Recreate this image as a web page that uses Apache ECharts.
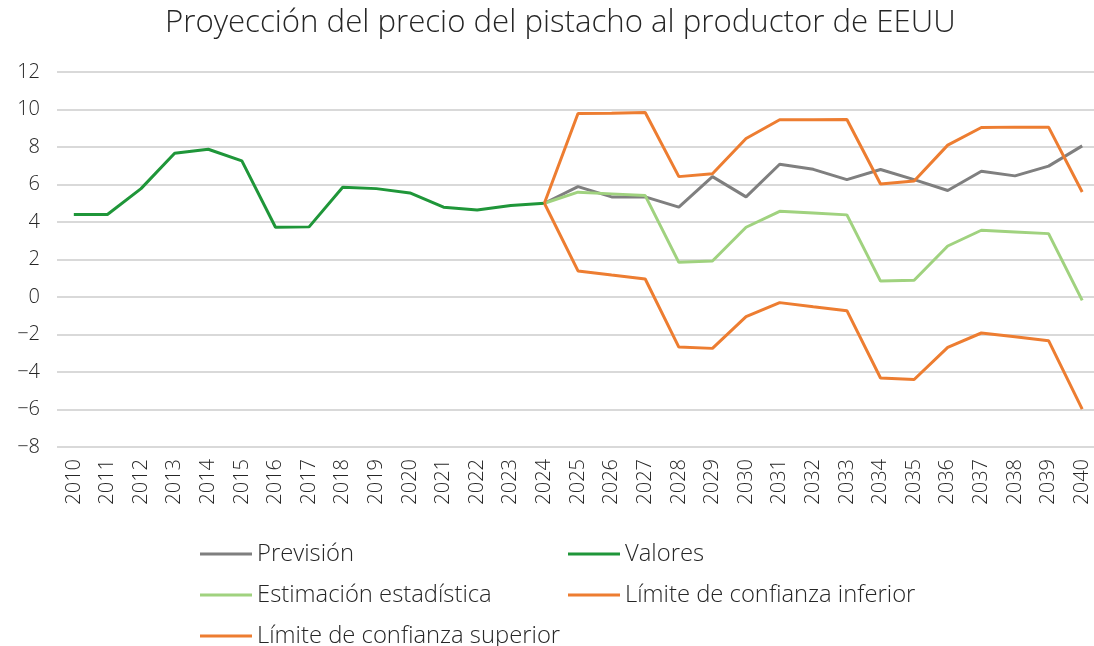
<!DOCTYPE html>
<html>
<head>
<meta charset="utf-8">
<script src="https://cdn.jsdelivr.net/npm/echarts@6/dist/echarts.min.js"></script>
<style>
  html, body { margin: 0; padding: 0; background: #fff; }
  #main { width: 1094px; height: 646px; }
</style>
</head>
<body>
<div id="main"></div>
<script>
// años
var years = ['2010','2011','2012','2013','2014','2015','2016','2017','2018','2019','2020',
  '2021','2022','2023','2024','2025','2026','2027','2028','2029','2030',
  '2031','2032','2033','2034','2035','2036','2037','2038','2039','2040'];

// valores históricos 2010-2024
var valores = [4.4, 4.4, 5.78, 7.67, 7.88, 7.26, 3.72, 3.74, 5.85, 5.78, 5.55, 4.79, 4.64, 4.88, 5.0];

// proyección 2024-2040
var prevision = [5.0, 5.89, 5.34, 5.34, 4.79, 6.42, 5.34, 7.08, 6.81, 6.26, 6.80, 6.26, 5.68, 6.71, 6.46, 6.98, 8.06];
var estimacion = [5.0, 5.59, 5.5, 5.41, 1.85, 1.92, 3.72, 4.57, 4.48, 4.38, 0.85, 0.89, 2.72, 3.56, 3.47, 3.38, -0.18];
var limInferior = [5.0, 1.39, 1.17, 0.96, -2.67, -2.74, -1.05, -0.30, -0.52, -0.73, -4.32, -4.40, -2.69, -1.92, -2.12, -2.33, -5.98];
var limSuperior = [5.0, 9.79, 9.8, 9.84, 6.42, 6.57, 8.45, 9.45, 9.45, 9.47, 6.03, 6.19, 8.10, 9.04, 9.06, 9.06, 5.6];

var FONT = '"Open Sans", sans-serif';

// rellena con null hasta 2024 para las series de proyección
function desde2024(arr) {
  var pad = [];
  for (var i = 0; i < years.length - arr.length; i++) pad.push(null);
  return pad.concat(arr);
}

var myChart = echarts.init(document.getElementById('main'));

function linea(name, data, color) {
  return {
    name: name,
    type: 'line',
    data: data,
    symbol: 'none',
    showSymbol: false,
    lineStyle: { width: 3, color: color },
    itemStyle: { color: color },
    emphasis: { disabled: true }
  };
}

var txt = { fontFamily: FONT, fontWeight: 300, fontSize: 23.8, color: '#262626' };

var option = {
  animation: false,
  title: {
    text: 'Proyección del precio del pistacho al productor de EEUU',
    left: 160,
    top: 3,
    textStyle: { fontFamily: FONT, fontSize: 31.2, fontWeight: 300, color: '#262626' }
  },
  legend: [{
    orient: 'vertical',
    left: 195,
    top: 537,
    height: 160,
    itemWidth: 52,
    itemHeight: 3,
    itemGap: 17,
    icon: 'rect',
    textStyle: txt,
    data: ['Previsión', 'Estimación estadística', 'Límite de confianza superior']
  }, {
    orient: 'vertical',
    left: 563,
    top: 537,
    height: 160,
    itemWidth: 52,
    itemHeight: 3,
    itemGap: 17,
    icon: 'rect',
    textStyle: txt,
    data: ['Valores', 'Límite de confianza inferior']
  }],
  grid: {
    left: 57,
    right: -5,
    top: 72,
    bottom: 199,
    containLabel: false,
    outerBoundsMode: 'none'
  },
  xAxis: {
    type: 'category',
    data: years,
    boundaryGap: true,
    axisLine: { show: false },
    axisTick: { show: false },
    axisLabel: {
      rotate: 90,
      margin: 12,
      fontFamily: FONT,
      fontWeight: 300,
      fontSize: 20,
      color: '#262626'
    }
  },
  yAxis: {
    type: 'value',
    min: -8,
    max: 12,
    interval: 2,
    axisLine: { show: false },
    axisTick: { show: false },
    axisLabel: {
      margin: 17,
      fontFamily: FONT,
      fontWeight: 300,
      fontSize: 20,
      color: '#262626',
      formatter: function (v) { return String(v).replace('-', '\u2212'); }
    },
    splitLine: { lineStyle: { color: '#d9d9d9', width: 2 } }
  },
  series: [
    linea('Previsión', desde2024(prevision), '#7f7f7f'),
    linea('Valores', valores, '#1f9639'),
    linea('Estimación estadística', desde2024(estimacion), '#a0d27f'),
    linea('Límite de confianza inferior', desde2024(limInferior), '#ed7d31'),
    linea('Límite de confianza superior', desde2024(limSuperior), '#ed7d31')
  ]
};

myChart.setOption(option);
</script>
</body>
</html>
